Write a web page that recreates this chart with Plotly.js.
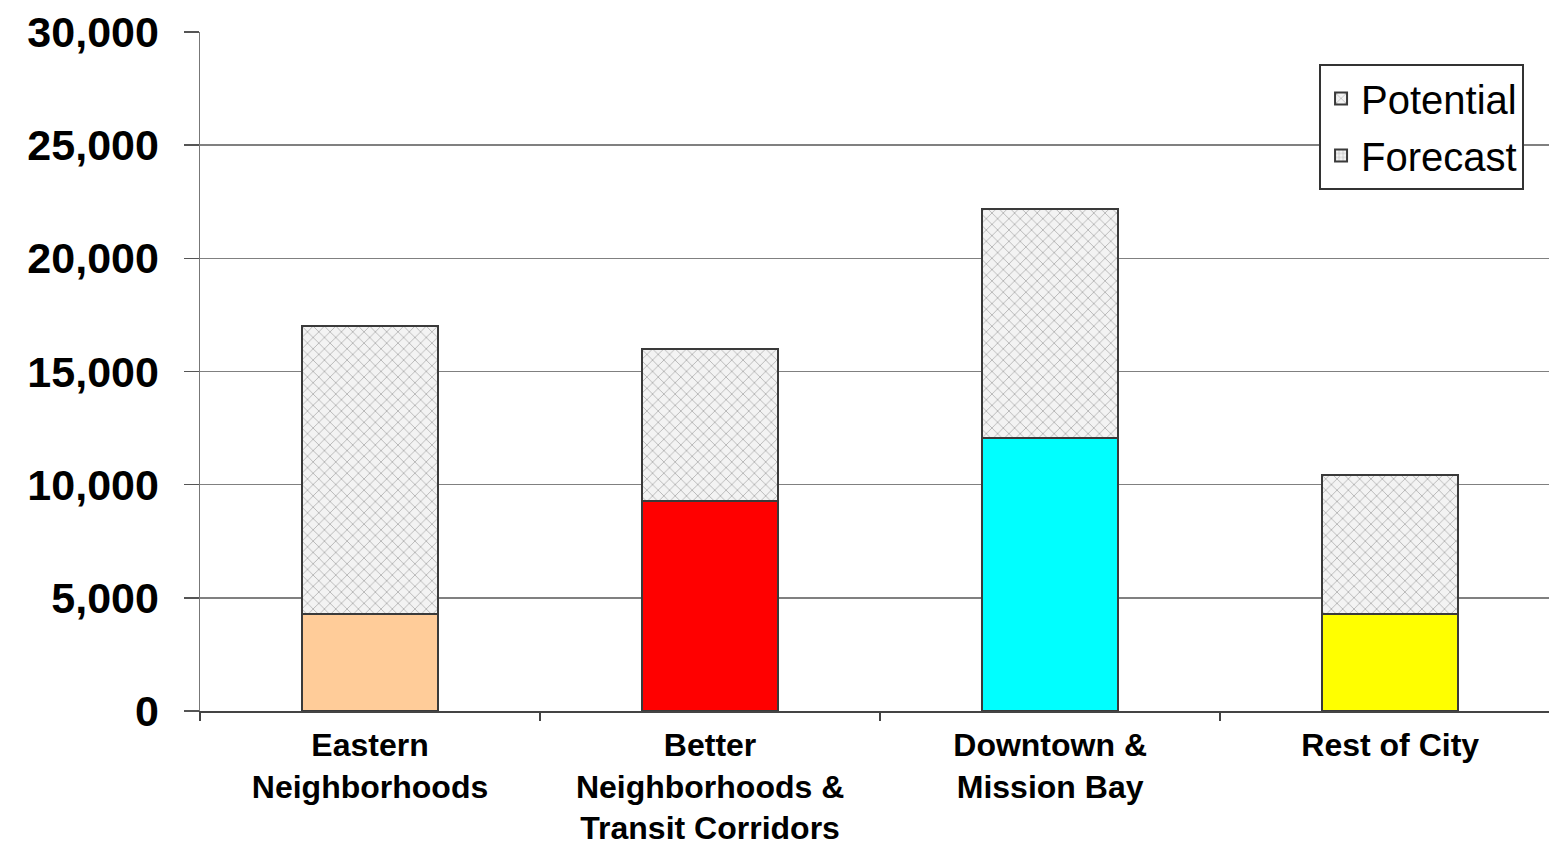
<!DOCTYPE html>
<html>
<head>
<meta charset="utf-8">
<script src="https://cdn.plot.ly/plotly-3.0.1.min.js"></script>
<style>html,body{margin:0;padding:0;background:#fff;}#chart{width:1549px;height:848px;}</style>
</head>
<body>
<div id="chart"></div>
<script>
const categories = ["Eastern<br>Neighborhoods", "Better<br>Neighborhoods &<br>Transit Corridors", "Downtown &<br>Mission Bay", "Rest of City"];
const forecastValues = [4300, 9300, 12050, 4300];
const potentialValues = [12700, 6700, 10150, 6130];
const forecastColors = ["#FFCC99", "#FF0000", "#00FFFF", "#FFFF00"];
const yTickValues = [0, 5000, 10000, 15000, 20000, 25000, 30000];
const yTickLabels = ["0", "5,000", "10,000", "15,000", "20,000", "25,000", "30,000"];

const patternPotential = {shape: "x", fgcolor: "#9a9a9a", bgcolor: "#f3f3f3", size: 8, solidity: 0.15};
const patternForecast = {shape: "+", fgcolor: "#a0a0a0", bgcolor: "#f4f4f4", size: 5, solidity: 0.2};

const traces = [
  {
    type: "bar", x: categories, y: forecastValues, name: "Forecast", showlegend: false,
    width: 0.4,
    marker: {color: forecastColors, line: {color: "#3a3a3a", width: 2}},
    hoverinfo: "x+y"
  },
  {
    type: "bar", x: categories, y: potentialValues, name: "Potential", legendrank: 1, legendgroup: "p",
    width: 0.4,
    marker: {color: "#f3f3f3", pattern: patternPotential, line: {color: "#3a3a3a", width: 2}}
  },
  {
    type: "bar", x: [categories[0]], y: [null], name: "Forecast", legendrank: 2, legendgroup: "f",
    width: 0.4,
    marker: {color: "#f4f4f4", pattern: patternForecast, line: {color: "#3a3a3a", width: 2}}
  }
];

const layout = {
  width: 1549, height: 848,
  margin: {l: 200, r: 0, t: 32, b: 137},
  barmode: "stack",
  paper_bgcolor: "#ffffff", plot_bgcolor: "#ffffff",
  font: {family: "Liberation Sans, Arial, sans-serif", color: "#000"},
  xaxis: {
    type: "category",
    range: [-0.5, 3.467],
    tickson: "boundaries",
    ticks: "outside", ticklen: 8, tickwidth: 1.5, tickcolor: "#444",
    showline: true, linecolor: "#444", linewidth: 1.5,
    showgrid: false,
    ticklabelstandoff: 5,
    tickfont: {family: "Liberation Sans, Arial, sans-serif", size: 32, color: "#000", weight: "bold"}
  },
  yaxis: {
    range: [0, 30000],
    tickvals: yTickValues, ticktext: yTickLabels,
    ticks: "outside", ticklen: 15, tickwidth: 1.5, tickcolor: "#555",
    showline: true, linecolor: "#777", linewidth: 1.5,
    showgrid: true, gridcolor: "#808080", gridwidth: 1.5,
    zeroline: false,
    ticklabelstandoff: 16,
    tickfont: {family: "Liberation Sans, Arial, sans-serif", size: 43, color: "#000", weight: "bold"}
  },
  legend: {
    x: 0.9815, xanchor: "right", y: 0.953, yanchor: "top",
    bgcolor: "#ffffff", bordercolor: "#333", borderwidth: 2,
    font: {family: "Liberation Sans, Arial, sans-serif", size: 40, color: "#000"},
    traceorder: "grouped", tracegroupgap: 2,
    itemwidth: 30
  },
  showlegend: true
};

Plotly.newPlot("chart", traces, layout, {displayModeBar: false, staticPlot: true});
</script>
</body>
</html>
